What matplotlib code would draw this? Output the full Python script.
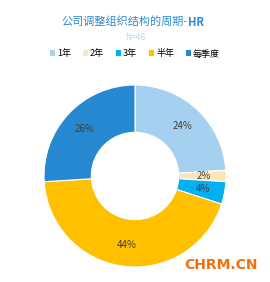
import matplotlib
matplotlib.use('Agg')
import matplotlib.pyplot as plt
from matplotlib.patches import Patch

plt.rcParams['font.family'] = ['Noto Sans CJK SC', 'DejaVu Sans']

labels = ['1年', '2年', '3年', '半年', '每季度']
shares = [24, 2, 4, 44, 26]   # percent, N=46
colors = ['#A6D0EF', '#FCE5B6', '#00B0F0', '#FFC000', '#2588D0']

fig = plt.figure(figsize=(2.70, 2.82), dpi=100)
ax = fig.add_axes([(135 - 91) / 270, 1 - (176 + 91) / 282, 182 / 270, 182 / 282])

wedges, texts, autotexts = ax.pie(
    shares, colors=colors, startangle=90, counterclock=False,
    radius=1.0, wedgeprops=dict(width=0.52, edgecolor='white', linewidth=0.8),
    autopct='%1.0f%%', pctdistance=0.76,
    textprops=dict(fontsize=7, color='#404040'))
ax.set_aspect('equal')
ax.set_xlim(-1, 1)
ax.set_ylim(-1, 1)

# title: chinese part plus bold HR
split_x = 188 / 270
fig.text(split_x, 1 - 22 / 282, '公司调整组织结构的周期-', ha='right', va='center',
         fontsize=8, color='#2E8BD0')
fig.text(split_x, 1 - 22 / 282, 'HR', ha='left', va='center',
         fontsize=8, color='#2E8BD0', fontweight='bold')
fig.text(0.5, 1 - 37 / 282, 'N=46', ha='center', va='center',
         fontsize=6, color='#B9D6EE')

handles = [Patch(facecolor=c, edgecolor='none') for c in colors]
fig.legend(handles, labels, loc='center', bbox_to_anchor=(0.5, 1 - 54 / 282),
           ncol=5, frameon=False, fontsize=6.5, handlelength=0.6,
           handleheight=0.6, handletextpad=0.2, columnspacing=1.3)

fig.text(1 - 12 / 270, 1 - 265 / 282, 'CHRM.CN', ha='right', va='center',
         fontsize=10, color='#F07010', fontweight='bold', family='DejaVu Sans')

fig.savefig('out.png', dpi=100)
